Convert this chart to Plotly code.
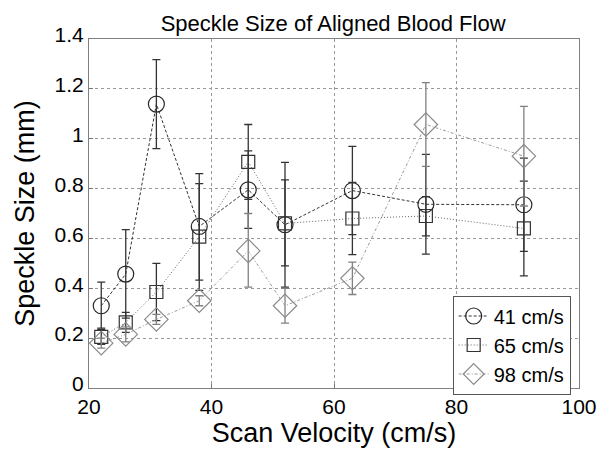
import plotly.graph_objects as go

scan_velocity = [22, 26, 31, 38, 46, 52, 63, 75, 91]

size_41 = [0.33, 0.457, 1.139, 0.648, 0.795, 0.655, 0.792, 0.737, 0.735]
err_41_plus = [0.095, 0.178, 0.178, 0.212, 0.156, 0.25, 0.177, 0.2, 0.187]
err_41_minus = [0.09, 0.177, 0.179, 0.215, 0.155, 0.25, 0.177, 0.2, 0.187]

size_65 = [0.205, 0.263, 0.385, 0.607, 0.907, 0.66, 0.68, 0.69, 0.64]
err_65_plus = [0.03, 0.04, 0.115, 0.213, 0.15, 0.175, 0.145, 0.078, 0.19]
err_65_minus = [0.03, 0.04, 0.115, 0.215, 0.15, 0.17, 0.145, 0.08, 0.19]

size_98 = [0.18, 0.215, 0.275, 0.35, 0.55, 0.33, 0.44, 1.057, 0.93]
err_98_plus = [0.02, 0.03, 0.02, 0.02, 0.15, 0.07, 0.065, 0.168, 0.2]
err_98_minus = [0.02, 0.03, 0.02, 0.02, 0.145, 0.07, 0.065, 0.168, 0.2]

series = [
    ("41 cm/s", size_41, err_41_plus, err_41_minus, "circle-open", 16, "#262626", "3px,2px", "#333333", "#333333"),
    ("65 cm/s", size_65, err_65_plus, err_65_minus, "square-open", 13, "#333333", "1px,2px", "#666666", "#333333"),
    ("98 cm/s", size_98, err_98_plus, err_98_minus, "diamond-open", 18, "#8a8a8a", "3px,2px,1px,2px", "#9a9a9a", "#808080"),
]

fig = go.Figure()
for name, y, ep, em, sym, sz, mcol, dash, lcol, ecol in series:
    fig.add_trace(go.Scatter(
        x=scan_velocity, y=y, name=name, mode="lines+markers",
        line=dict(color=lcol, width=1, dash=dash),
        marker=dict(symbol=sym, size=sz, color=mcol, line=dict(width=1.2, color=mcol)),
        error_y=dict(type="data", symmetric=False, array=ep, arrayminus=em,
                     color=ecol, thickness=1.3, width=4),
    ))

fnt = "Liberation Sans, Arial, sans-serif"
fig.update_layout(
    width=609, height=449,
    margin=dict(l=89, r=27, t=39, b=57),
    paper_bgcolor="white", plot_bgcolor="white",
    title=dict(text="Speckle Size of Aligned Blood Flow", x=0.547, xanchor="center",
               y=0.948, yanchor="middle", font=dict(family=fnt, size=22, color="black")),
    font=dict(family=fnt, color="black"),
    xaxis=dict(range=[20, 100], tickvals=[20, 40, 60, 80, 100], ticks="inside", ticklen=4,
               tickcolor="#777777",
               showline=True, linecolor="#808080", mirror=True, linewidth=1,
               showgrid=True, gridcolor="#999999", griddash="dot", gridwidth=1,
               zeroline=False, tickfont=dict(size=21, family=fnt),
               title=dict(text="Scan Velocity (cm/s)", font=dict(size=27, family=fnt), standoff=0)),
    yaxis=dict(range=[0, 1.4], tickvals=[0, 0.2, 0.4, 0.6, 0.8, 1.0, 1.2, 1.4],
               ticktext=["0", "0.2", "0.4", "0.6", "0.8", "1", "1.2", "1.4"],
               ticks="inside", ticklen=4, tickcolor="#777777", ticklabelshift=-4,
               showline=True, linecolor="#808080", mirror=True, linewidth=1,
               showgrid=True, gridcolor="#999999", griddash="dot", gridwidth=1,
               zeroline=False, tickfont=dict(size=21, family=fnt),
               title=dict(text="Speckle Size (mm)", font=dict(size=27, family=fnt), standoff=12)),
    legend=dict(x=0.983, y=0.265, xanchor="right", yanchor="top",
                bgcolor="white", bordercolor="#555555", borderwidth=1,
                font=dict(size=20, family=fnt), itemwidth=30, tracegroupgap=0),
    showlegend=True,
)

fig.write_html("out.html")
